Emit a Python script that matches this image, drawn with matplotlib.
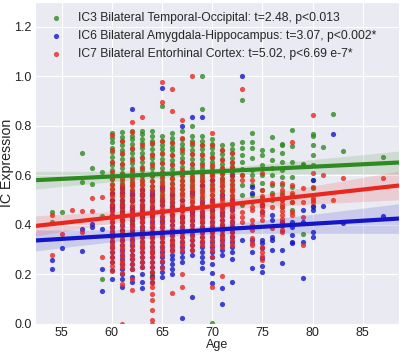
import numpy as np
import matplotlib
matplotlib.use('Agg')
import matplotlib.pyplot as plt
import seaborn as sns

# values: age -> IC expression values at that age
# (dense columns partly hidden under the other colours are estimated)
ic3_green = {
    54: [0.453, 0.41], 55: [0.45], 57: [0.69, 0.574], 58: [0.628, 0.565],
    59: [0.614, 0.437, 0.181],
    60: [0.77, 0.75, 0.735, 0.71, 0.695, 0.675, 0.655, 0.64, 0.62, 0.60, 0.585, 0.565, 0.545, 0.525, 0.50, 0.47, 0.43, 0.39],
    61: [0.775, 0.755, 0.74, 0.72, 0.70, 0.685, 0.665, 0.645, 0.63, 0.61, 0.59, 0.57, 0.555, 0.535, 0.515, 0.49, 0.46, 0.42, 0.38],
    62: [0.78, 0.76, 0.745, 0.725, 0.705, 0.69, 0.67, 0.65, 0.63, 0.615, 0.595, 0.575, 0.56, 0.54, 0.52, 0.495, 0.46, 0.41, 0.37],
    63: [0.78, 0.765, 0.745, 0.73, 0.71, 0.69, 0.675, 0.655, 0.635, 0.62, 0.60, 0.58, 0.565, 0.545, 0.525, 0.50, 0.47, 0.43, 0.38],
    64: [0.78, 0.76, 0.74, 0.725, 0.705, 0.685, 0.67, 0.65, 0.63, 0.61, 0.595, 0.575, 0.555, 0.54, 0.515, 0.49, 0.45, 0.198],
    65: [0.88, 0.76, 0.74, 0.72, 0.705, 0.685, 0.665, 0.65, 0.63, 0.61, 0.595, 0.575, 0.555, 0.535, 0.515, 0.49, 0.455, 0.42],
    66: [0.77, 0.75, 0.735, 0.715, 0.70, 0.68, 0.66, 0.645, 0.625, 0.605, 0.59, 0.57, 0.55, 0.53, 0.51, 0.48, 0.44],
    67: [0.78, 0.745, 0.725, 0.71, 0.69, 0.67, 0.655, 0.635, 0.615, 0.60, 0.58, 0.56, 0.545, 0.525, 0.50, 0.47, 0.43],
    68: [0.80, 0.76, 0.74, 0.72, 0.70, 0.685, 0.665, 0.645, 0.63, 0.61, 0.59, 0.575, 0.555, 0.535, 0.515, 0.49, 0.455],
    69: [1.0, 0.867, 0.76, 0.74, 0.72, 0.705, 0.685, 0.665, 0.65, 0.63, 0.61, 0.595, 0.575, 0.555, 0.535, 0.51, 0.48, 0.44],
    70: [0.745, 0.725, 0.71, 0.69, 0.67, 0.655, 0.635, 0.615, 0.60, 0.58, 0.56, 0.545, 0.52, 0.49, 0.45, 0.004],
    71: [0.72, 0.70, 0.685, 0.665, 0.645, 0.63, 0.61, 0.59, 0.575, 0.555, 0.535, 0.51, 0.48],
    72: [0.725, 0.705, 0.69, 0.67, 0.65, 0.635, 0.615, 0.595, 0.58, 0.56, 0.54, 0.515, 0.485],
    73: [0.903, 0.735, 0.708, 0.681, 0.654, 0.625, 0.60, 0.56, 0.52, 0.48],
    74: [0.771, 0.735, 0.708, 0.668, 0.62, 0.60, 0.56, 0.52, 0.49],
    75: [0.70, 0.68, 0.64, 0.60, 0.567, 0.54, 0.51, 0.48],
    76: [0.755, 0.70, 0.66, 0.63, 0.60, 0.56, 0.53, 0.50],
    77: [0.726, 0.72, 0.69, 0.654, 0.62, 0.594, 0.56, 0.53, 0.50, 0.47],
    78: [0.782, 0.718, 0.654, 0.594, 0.554, 0.52, 0.49, 0.46],
    79: [0.645, 0.64, 0.363],
    80: [0.766, 0.758, 0.72, 0.68, 0.64, 0.58, 0.55, 0.50, 0.47],
    81: [0.715], 82: [0.847], 83: [0.697], 87: [0.672],
}

ic6_blue = {
    54: [0.258, 0.222], 55: [0.306], 57: [0.382, 0.294], 58: [0.403, 0.39],
    59: [0.383, 0.222, 0.133],
    60: [0.53, 0.50, 0.48, 0.47, 0.46, 0.44, 0.43, 0.41, 0.39, 0.37, 0.35, 0.33, 0.31, 0.29, 0.27, 0.25, 0.218, 0.18],
    61: [0.55, 0.53, 0.50, 0.48, 0.47, 0.45, 0.44, 0.42, 0.40, 0.38, 0.36, 0.34, 0.32, 0.30, 0.28, 0.26, 0.24, 0.22, 0.20, 0.18, 0.15],
    62: [0.867, 0.53, 0.52, 0.50, 0.47, 0.46, 0.44, 0.43, 0.42, 0.40, 0.38, 0.36, 0.34, 0.32, 0.30, 0.28, 0.26, 0.24, 0.22, 0.19, 0.17],
    63: [0.54, 0.52, 0.50, 0.48, 0.46, 0.45, 0.43, 0.41, 0.39, 0.37, 0.35, 0.33, 0.31, 0.29, 0.27, 0.25, 0.23, 0.20, 0.17, 0.145],
    64: [0.53, 0.52, 0.50, 0.47, 0.46, 0.44, 0.43, 0.41, 0.39, 0.37, 0.35, 0.33, 0.31, 0.29, 0.27, 0.25, 0.23, 0.21, 0.19, 0.17],
    65: [0.954, 0.55, 0.50, 0.48, 0.45, 0.43, 0.41, 0.39, 0.37, 0.35, 0.33, 0.31, 0.29, 0.27, 0.25, 0.23, 0.21, 0.19],
    66: [0.52, 0.49, 0.47, 0.44, 0.42, 0.40, 0.38, 0.36, 0.34, 0.32, 0.30, 0.28, 0.26, 0.24, 0.22, 0.20],
    67: [0.798, 0.50, 0.47, 0.46, 0.43, 0.41, 0.39, 0.37, 0.35, 0.33, 0.31, 0.29, 0.27, 0.25, 0.024],
    68: [0.836, 0.53, 0.47, 0.45, 0.44, 0.42, 0.40, 0.38, 0.36, 0.34, 0.32, 0.30, 0.28, 0.109],
    69: [0.836, 0.56, 0.49, 0.47, 0.45, 0.43, 0.41, 0.39, 0.37, 0.35, 0.33, 0.31, 0.29, 0.27, 0.25, 0.226],
    70: [0.58, 0.50, 0.47, 0.46, 0.43, 0.41, 0.39, 0.37, 0.35, 0.33, 0.31, 0.29, 0.27, 0.24, 0.206, 0.167],
    71: [0.52, 0.47, 0.45, 0.44, 0.42, 0.40, 0.38, 0.36, 0.34, 0.32, 0.30, 0.28, 0.145, 0.081],
    72: [0.60, 0.50, 0.47, 0.46, 0.43, 0.41, 0.39, 0.37, 0.35, 0.33, 0.31, 0.29, 0.26, 0.171],
    73: [1.0, 0.339],
    74: [0.554, 0.527, 0.339, 0.292, 0.226],
    75: [0.48, 0.45, 0.339, 0.325, 0.305, 0.265, 0.235, 0.211],
    76: [0.44, 0.42, 0.352, 0.34, 0.30],
    77: [0.41, 0.40, 0.298, 0.246],
    78: [0.41, 0.39, 0.36, 0.33, 0.325],
    79: [0.46, 0.41, 0.33, 0.187],
    80: [0.58, 0.475, 0.46, 0.37, 0.35],
    81: [0.476], 82: [0.766], 83: [0.406], 87: [0.435],
}

ic7_red = {
    54: [0.44, 0.28], 55: [0.363], 56: [0.46], 57: [0.457, 0.37], 58: [0.507, 0.456],
    59: [0.512, 0.271],
    60: [0.762, 0.70, 0.655, 0.615, 0.585, 0.56, 0.545, 0.53, 0.515, 0.50, 0.485, 0.47, 0.455, 0.44, 0.425, 0.41, 0.395, 0.38, 0.365, 0.35, 0.335, 0.32, 0.305, 0.29, 0.27, 0.25, 0.235, 0.215],
    61: [0.74, 0.69, 0.645, 0.605, 0.58, 0.56, 0.545, 0.53, 0.515, 0.50, 0.485, 0.47, 0.455, 0.44, 0.425, 0.41, 0.395, 0.38, 0.365, 0.35, 0.335, 0.32, 0.305, 0.29, 0.275, 0.255, 0.24, 0.23, 0.205, 0.16, 0.0],
    62: [0.813, 0.776, 0.71, 0.66, 0.62, 0.59, 0.57, 0.555, 0.54, 0.525, 0.51, 0.495, 0.48, 0.465, 0.45, 0.435, 0.42, 0.405, 0.39, 0.375, 0.36, 0.345, 0.33, 0.315, 0.30, 0.28, 0.26, 0.24, 0.22, 0.18, 0.137],
    63: [0.836, 0.72, 0.67, 0.63, 0.595, 0.575, 0.56, 0.545, 0.53, 0.515, 0.50, 0.485, 0.47, 0.455, 0.44, 0.425, 0.41, 0.395, 0.38, 0.365, 0.35, 0.335, 0.32, 0.305, 0.29, 0.27, 0.25, 0.23],
    64: [0.73, 0.68, 0.64, 0.60, 0.575, 0.555, 0.54, 0.525, 0.51, 0.495, 0.48, 0.465, 0.45, 0.435, 0.42, 0.405, 0.39, 0.375, 0.36, 0.345, 0.33, 0.315, 0.30, 0.285, 0.27, 0.25, 0.23, 0.21, 0.185, 0.165, 0.15, 0.12, 0.097, 0.056, 0.016, 0.0],
    65: [0.977, 0.896, 0.74, 0.69, 0.65, 0.615, 0.59, 0.57, 0.555, 0.54, 0.525, 0.51, 0.495, 0.48, 0.465, 0.45, 0.435, 0.42, 0.405, 0.39, 0.375, 0.36, 0.345, 0.33, 0.315, 0.30, 0.28, 0.255, 0.225],
    66: [0.949, 0.86, 0.73, 0.68, 0.64, 0.605, 0.585, 0.565, 0.55, 0.535, 0.52, 0.505, 0.49, 0.475, 0.46, 0.445, 0.43, 0.415, 0.40, 0.385, 0.37, 0.355, 0.34, 0.325, 0.31, 0.295, 0.125],
    67: [0.823, 0.75, 0.70, 0.655, 0.62, 0.595, 0.575, 0.56, 0.545, 0.53, 0.515, 0.50, 0.485, 0.47, 0.455, 0.44, 0.425, 0.41, 0.395, 0.38, 0.365, 0.35, 0.335, 0.32, 0.30, 0.20, 0.15],
    68: [1.0, 0.73, 0.685, 0.645, 0.615, 0.595, 0.58, 0.565, 0.55, 0.535, 0.52, 0.505, 0.49, 0.475, 0.46, 0.445, 0.43, 0.415, 0.40, 0.385, 0.37, 0.355, 0.34, 0.32, 0.30],
    69: [0.72, 0.68, 0.64, 0.61, 0.59, 0.575, 0.56, 0.545, 0.53, 0.515, 0.50, 0.485, 0.47, 0.455, 0.44, 0.425, 0.41, 0.395, 0.38, 0.365, 0.35, 0.335, 0.32],
    70: [0.771, 0.72, 0.675, 0.64, 0.62, 0.605, 0.595, 0.58, 0.565, 0.55, 0.535, 0.52, 0.505, 0.49, 0.475, 0.46, 0.445, 0.43, 0.415, 0.40, 0.385, 0.37, 0.355, 0.34, 0.32, 0.30, 0.27, 0.147],
    71: [0.70, 0.66, 0.63, 0.615, 0.605, 0.585, 0.57, 0.555, 0.54, 0.525, 0.51, 0.495, 0.48, 0.465, 0.45, 0.435, 0.42, 0.405, 0.39, 0.375, 0.36, 0.345, 0.33, 0.31, 0.194],
    72: [0.69, 0.655, 0.635, 0.625, 0.60, 0.58, 0.565, 0.55, 0.535, 0.52, 0.505, 0.49, 0.475, 0.46, 0.445, 0.43, 0.415, 0.40, 0.385, 0.37, 0.355, 0.34, 0.32],
    73: [0.95, 0.60, 0.58, 0.488, 0.453, 0.433, 0.413],
    74: [0.58, 0.473, 0.46, 0.42, 0.40, 0.38, 0.347, 0.327, 0.319],
    75: [0.61, 0.54, 0.515, 0.50, 0.485, 0.47, 0.455, 0.44, 0.42, 0.31, 0.29, 0.275, 0.258],
    76: [0.567, 0.52, 0.473, 0.386],
    77: [0.567, 0.54, 0.52, 0.50, 0.485, 0.47, 0.455, 0.44, 0.425, 0.41, 0.395, 0.38, 0.37],
    78: [0.735, 0.56, 0.527, 0.493, 0.453, 0.44],
    79: [0.548, 0.493, 0.43, 0.318],
    80: [0.843, 0.61, 0.554, 0.51, 0.493],
    81: [0.60], 82: [0.50], 83: [0.587], 87: [0.587],
}

labels = ['IC3 Bilateral Temporal-Occipital: t=2.48, p<0.013',
          'IC6 Bilateral Amygdala-Hippocampus: t=3.07, p<0.002*',
          'IC7 Bilateral Entorhinal Cortex: t=5.02, p<6.69 e-7*']
colors = ['#2f8a22', '#1414c8', '#e8281e']


def flatten(d):
    x, y = [], []
    for age, vals in d.items():
        x += [age] * len(vals)
        y += vals
    return np.array(x, float), np.array(y, float)


def fit_band(x, y, grid):
    """ linear fit with 95% CI of the mean """
    b, a = np.polyfit(x, y, 1)
    resid = y - (a + b * x)
    n = len(x)
    s = np.sqrt(np.sum(resid ** 2) / (n - 2))
    sxx = np.sum((x - x.mean()) ** 2)
    se = s * np.sqrt(1.0 / n + (grid - x.mean()) ** 2 / sxx)
    yhat = a + b * grid
    return yhat, yhat - 1.96 * se, yhat + 1.96 * se


sns.set_style('darkgrid')
plt.rcParams['font.family'] = ['Liberation Sans', 'DejaVu Sans']

fig = plt.figure(figsize=(4.0, 3.54), dpi=100)
ax = fig.add_axes([0.0875, 0.085, 0.911, 0.91])

series = [flatten(ic3_green), flatten(ic6_blue), flatten(ic7_red)]
for (x, y), c, lab in zip(series, colors, labels):
    ax.scatter(x, y, s=14, color=c, alpha=0.8, linewidths=0, label=lab)

ax.set_xlim(52.35, 88.65)
ax.set_ylim(0, 1.3)
grid = np.linspace(52.35, 88.65, 100)
for (x, y), c in zip(series, colors):
    yhat, lo, hi = fit_band(x, y, grid)
    ax.fill_between(grid, lo, hi, color=c, alpha=0.15, linewidth=0)
    ax.plot(grid, yhat, color=c, lw=3)

ax.set_xticks([55, 60, 65, 70, 75, 80, 85])
ax.set_yticks([0.0, 0.2, 0.4, 0.6, 0.8, 1.0, 1.2])
ax.tick_params(labelsize=9, length=0, pad=2.5, colors='#222222')
ax.set_xlabel('Age', fontsize=9, labelpad=0, color='#222222')
ax.set_ylabel('IC Expression', fontsize=10.2, color='#222222')
ax.yaxis.set_label_coords(-0.058, 0.5)

ax.legend(loc='upper left', fontsize=8.7, frameon=False, handletextpad=0.9,
          labelspacing=0.5, borderaxespad=0.3, bbox_to_anchor=(0.0, 0.995))

fig.savefig('out.png', dpi=100)
